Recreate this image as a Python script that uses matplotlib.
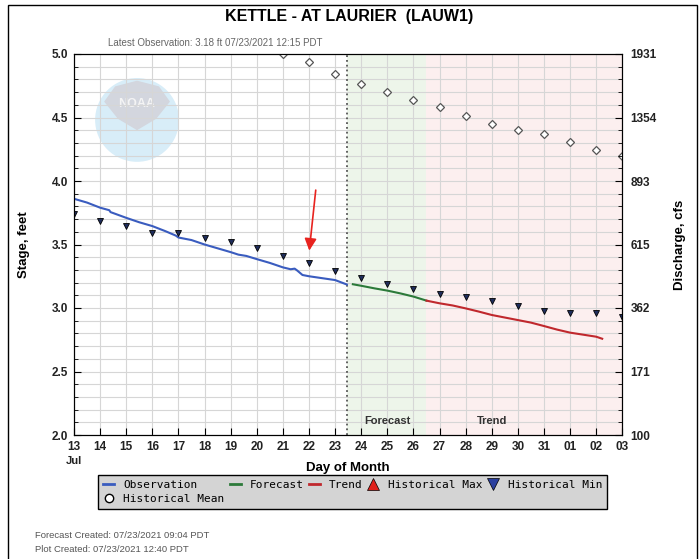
import matplotlib.pyplot as plt
from matplotlib.lines import Line2D
from matplotlib.patches import Ellipse, Polygon, Rectangle

# days counted from Jul 1 (32 = Aug 01)
obs_day = [13.0, 13.5, 14.0, 14.35, 14.4, 15.0, 15.5, 16.0, 16.5, 16.9, 17.0, 17.5, 18.0,
           18.5, 19.0, 19.3, 19.6, 20.0, 20.5, 21.0, 21.3, 21.45, 21.55, 21.75, 22.0,
           22.5, 23.0, 23.45]
obs_stage = [3.86, 3.83, 3.79, 3.77, 3.755, 3.71, 3.675, 3.645, 3.605, 3.57, 3.555, 3.535, 3.50,
             3.47, 3.44, 3.42, 3.41, 3.385, 3.355, 3.32, 3.305, 3.31, 3.295, 3.26, 3.25,
             3.235, 3.22, 3.185]

fcst_day = [23.68, 24.0, 24.5, 25.0, 25.5, 26.0, 26.5]
fcst_stage = [3.187, 3.175, 3.155, 3.137, 3.115, 3.09, 3.058]

trend_day = [26.5, 27.0, 27.5, 28.0, 28.5, 29.0, 29.5, 30.0, 30.5, 31.0, 31.5, 32.0, 32.5, 33.0, 33.23]
trend_stage = [3.058, 3.037, 3.02, 2.997, 2.972, 2.945, 2.925, 2.905, 2.885, 2.858, 2.83,
               2.806, 2.79, 2.774, 2.758]

min_day = list(range(13, 35))
min_stage = [3.74, 3.687, 3.646, 3.588, 3.588, 3.554, 3.517, 3.47, 3.407, 3.357, 3.289,
             3.239, 3.189, 3.147, 3.108, 3.087, 3.058, 3.018, 2.976, 2.958, 2.958, 2.929]

mean_day = list(range(21, 35))
mean_stage = [5.0, 4.935, 4.845, 4.766, 4.698, 4.635, 4.58, 4.512, 4.451, 4.404, 4.367,
              4.305, 4.244, 4.199]

day_labels = ['13', '14', '15', '16', '17', '18', '19', '20', '21', '22', '23', '24', '25',
              '26', '27', '28', '29', '30', '31', '01', '02', '03']
stage_ticks = [2.0, 2.5, 3.0, 3.5, 4.0, 4.5, 5.0]
flow_labels = ['100', '171', '362', '615', '893', '1354', '1931']

obs_end = 23.45
fcst_end = 26.5

plt.rcParams['font.family'] = ['Liberation Sans', 'DejaVu Sans']

fig = plt.figure(figsize=(6.99, 5.59), dpi=100)
ax = fig.add_axes([74 / 699, 1 - 435 / 559, 548.3 / 699, 381 / 559])

ax.set_xlim(13, 34)
ax.set_ylim(2.0, 5.0)

# forecast / trend shading
ax.axvspan(obs_end, fcst_end, color='#edf5ea', zorder=0.1, lw=0)
ax.axvspan(fcst_end, 34, color='#fcefef', zorder=0.1, lw=0)

# faded NOAA logo
ax.add_patch(Ellipse((0.115, 0.827), 0.153, 0.22, transform=ax.transAxes,
                     color='#d8edf8', zorder=0.3, lw=0))
ax.add_patch(Polygon([(0.055, 0.875), (0.075, 0.915), (0.115, 0.93), (0.155, 0.915),
                      (0.175, 0.875), (0.15, 0.83), (0.115, 0.80), (0.08, 0.83)],
                     transform=ax.transAxes, color='#d3d6de', zorder=0.35, lw=0))
ax.text(0.115, 0.87, 'NOAA', transform=ax.transAxes, color='#f4f4f4', fontsize=9,
        fontweight='bold', ha='center', va='center', zorder=0.4)

ax.set_axisbelow(True)
ax.set_xticks(range(13, 35))
ax.set_xticklabels(day_labels)
ax.set_yticks(stage_ticks)
ax.set_yticks([2.0 + 0.1 * i for i in range(31)], minor=True)
ax.grid(True, which='both', color='#d6d6d6', lw=0.8)
ax.tick_params(axis='both', which='major', direction='in', length=5, labelsize=8.5,
               colors='black', labelcolor='#222222', pad=4)
ax.tick_params(axis='y', which='minor', direction='in', length=3)
for lab in ax.get_xticklabels() + ax.get_yticklabels():
    lab.set_fontweight('bold')

ax.axvline(obs_end, color='#555555', ls=':', lw=1.3, zorder=2)

ax.plot(obs_day, obs_stage, color='#3a5cbf', lw=1.5, zorder=3)
ax.plot(fcst_day, fcst_stage, color='#2c7a3a', lw=1.5, zorder=3)
ax.plot(trend_day, trend_stage, color='#c0282d', lw=1.5, zorder=3)
ax.plot(min_day, min_stage, ls='none', marker='v', ms=4.5, color='#1f2d5c',
        mec='black', mew=0.6, zorder=4)
ax.plot(mean_day, mean_stage, ls='none', marker='D', ms=3.8, mfc='white',
        mec='#555555', mew=0.9, zorder=4)

ax.annotate('', xy=(22.0, 3.43), xytext=(22.27, 3.95),
            arrowprops=dict(arrowstyle='-|>', color='#e8231f', lw=1.2, mutation_scale=18))

ax.text(25.0, 2.11, 'Forecast', ha='center', va='center', fontsize=8, fontweight='bold',
        color='#333333')
ax.text(29.0, 2.11, 'Trend', ha='center', va='center', fontsize=8, fontweight='bold',
        color='#333333')

ax.set_ylabel('Stage, feet', fontsize=9.5, fontweight='bold', labelpad=16)
ax.set_xlabel('Day of Month', fontsize=9.5, fontweight='bold', labelpad=7)
ax.text(13, 1.795, 'Jul', ha='center', va='center', fontsize=8, fontweight='bold',
        color='#222222')

ax2 = ax.twinx()
ax2.set_ylim(2.0, 5.0)
ax2.set_yticks(stage_ticks)
ax2.set_yticklabels(flow_labels)
ax2.set_yticks([2.0 + 0.1 * i for i in range(31)], minor=True)
ax2.tick_params(axis='y', which='major', direction='in', length=5, labelsize=8.5,
                labelcolor='#222222', pad=6)
ax2.tick_params(axis='y', which='minor', direction='in', length=3)
for lab in ax2.get_yticklabels():
    lab.set_fontweight('bold')
ax2.set_ylabel('Discharge, cfs', fontsize=9.5, fontweight='bold', labelpad=12)

fig.text(0.5, 1 - 16 / 559, 'KETTLE - AT LAURIER  (LAUW1)', ha='center', va='center',
         fontsize=11.5, fontweight='bold')
fig.text(108 / 699, 1 - 43 / 559, 'Latest Observation: 3.18 ft 07/23/2021 12:15 PDT',
         ha='left', va='center', fontsize=7.0, color='#666666')
fig.text(35 / 699, 1 - 536 / 559, 'Forecast Created: 07/23/2021 09:04 PDT',
         ha='left', va='center', fontsize=6.8, color='#555555')
fig.text(35 / 699, 1 - 549 / 559, 'Plot Created: 07/23/2021 12:40 PDT',
         ha='left', va='center', fontsize=6.8, color='#555555')

handles = [
    Line2D([], [], color='#3a5cbf', lw=2, label='Observation'),
    Line2D([], [], ls='none', marker='o', ms=6, mfc='white', mec='black', label='Historical Mean'),
    Line2D([], [], color='#2c7a3a', lw=2, label='Forecast'),
    Line2D([], [], color='#c0282d', lw=2, label='Trend'),
    Line2D([], [], ls='none', marker='^', ms=8, color='#e0201a', mec='black', mew=0.5,
           label='Historical Max'),
    Line2D([], [], ls='none', marker='v', ms=8, color='#2a3f9e', mec='black', mew=0.5,
           label='Historical Min'),
]
leg = fig.legend(handles=handles, ncol=5, loc='upper left',
                 bbox_to_anchor=(98 / 699, 1 - 475 / 559, 509 / 699, 0.0), mode='expand',
                 prop={'family': 'DejaVu Sans Mono', 'size': 8}, frameon=True,
                 fancybox=False, facecolor='#d4d4d4', edgecolor='black', framealpha=1,
                 handlelength=1.0, handletextpad=0.8, borderaxespad=0, borderpad=0.45,
                 labelspacing=0.35, columnspacing=1.2)
leg.get_frame().set_linewidth(1.0)

fig.add_artist(Rectangle((8 / 699, -0.05), 689 / 699, 1 - 5 / 559 + 0.05,
                         transform=fig.transFigure, fill=False, edgecolor='black', lw=1))

fig.savefig('out.png', dpi=100)
